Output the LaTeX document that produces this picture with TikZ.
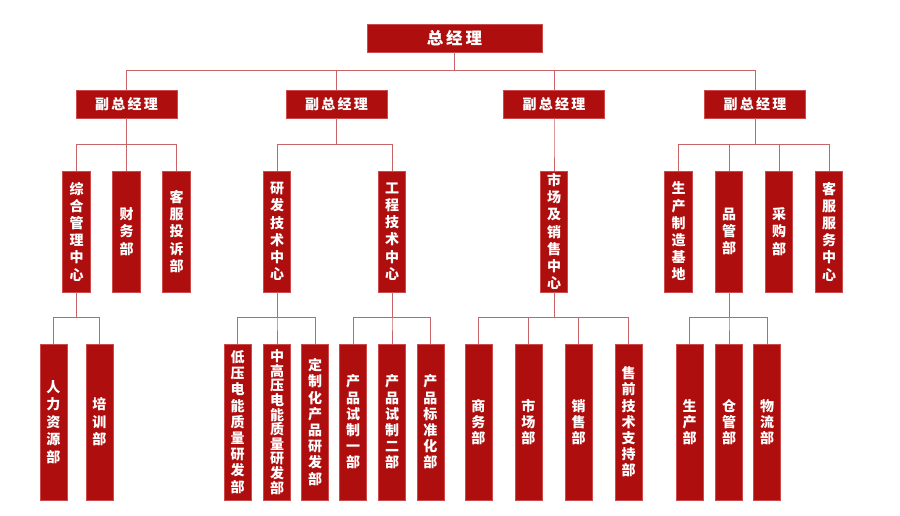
\documentclass[tikz,border=0pt]{standalone}
\usepackage{fontspec}
\setmainfont{Noto Sans CJK SC}
\begin{document}
\begin{tikzpicture}[x=1pt,y=-1pt,
  box/.style={fill=boxred,draw=boxedge,line width=0.6pt,text=white,inner sep=0pt,font=\bfseries},
  topbox/.style={box,minimum width=175pt,minimum height=28pt,font=\bfseries\fontsize{16.5}{18}\selectfont},
  vpbox/.style={box,minimum width=101pt,minimum height=28pt,font=\bfseries\fontsize{14}{16}\selectfont},
  midbox/.style={box,minimum width=27.5pt,minimum height=121pt,align=center,font=\bfseries\fontsize{14}{17.2}\selectfont},
  lowbox/.style={box,minimum width=27pt,minimum height=156pt,align=center,font=\bfseries\fontsize{14}{16.2}\selectfont},
  link/.style={draw=linered,line width=1pt}
]
\definecolor{boxred}{HTML}{AE0E0E}
\definecolor{boxedge}{HTML}{CC4A4A}
\definecolor{linered}{HTML}{C86468}
\useasboundingbox[fill=white] (0,0) rectangle (900,516);

% top
\node[topbox] (top) at (454.5,38) {总\hspace{3pt}经\hspace{3pt}理};
% VPs
\node[vpbox] (vp1) at (126.5,104) {副\hspace{2.3pt}总\hspace{2.3pt}经\hspace{2.3pt}理};
\node[vpbox] (vp2) at (336.5,104) {副\hspace{2.3pt}总\hspace{2.3pt}经\hspace{2.3pt}理};
\node[vpbox] (vp3) at (554,104) {副\hspace{2.3pt}总\hspace{2.3pt}经\hspace{2.3pt}理};
\node[vpbox] (vp4) at (755,104) {副\hspace{2.3pt}总\hspace{2.3pt}经\hspace{2.3pt}理};

% level 2
\node[midbox] (c11) at (76.5,231.5) {综\\合\\管\\理\\中\\心};
\node[midbox] (c12) at (126.5,231.5) {财\\务\\部};
\node[midbox] (c13) at (176.5,231.5) {客\\服\\投\\诉\\部};
\node[midbox] (c21) at (277,231.5) {研\\发\\技\\术\\中\\心};
\node[midbox] (c22) at (392,231.5) {工\\程\\技\\术\\中\\心};
\node[midbox] (c31) at (554,231.5) {市\\场\\及\\销\\售\\中\\心};
\node[midbox] (c41) at (678.5,231.5) {生\\产\\制\\造\\基\\地};
\node[midbox] (c42) at (729,231.5) {品\\管\\部};
\node[midbox] (c43) at (779,231.5) {采\\购\\部};
\node[midbox] (c44) at (829,231.5) {客\\服\\服\\务\\中\\心};

% level 3
\node[lowbox,font=\bfseries\fontsize{14}{17.5}\selectfont] (d111) at (53.3,422) {人\\力\\资\\源\\部};
\node[lowbox,font=\bfseries\fontsize{14}{17.5}\selectfont] (d112) at (99.3,422) {培\\训\\部};
\node[lowbox] (d211) at (237.7,422) {低\\压\\电\\能\\质\\量\\研\\发\\部};
\node[lowbox,font=\bfseries\fontsize{14}{14.6}\selectfont] (d212) at (277,422) {中\\高\\压\\电\\能\\质\\量\\研\\发\\部};
\node[lowbox] (d213) at (315,422) {定\\制\\化\\产\\品\\研\\发\\部};
\node[lowbox] (d221) at (353,422) {产\\品\\试\\制\\一\\部};
\node[lowbox] (d222) at (392,422) {产\\品\\试\\制\\二\\部};
\node[lowbox] (d223) at (430.3,422) {产\\品\\标\\准\\化\\部};
\node[lowbox] (d311) at (478.3,422) {商\\务\\部};
\node[lowbox] (d312) at (528.3,422) {市\\场\\部};
\node[lowbox] (d313) at (578.7,422) {销\\售\\部};
\node[lowbox] (d314) at (628.7,422) {售\\前\\技\\术\\支\\持\\部};
\node[lowbox] (d421) at (689.7,422) {生\\产\\部};
\node[lowbox] (d422) at (729,422) {仓\\管\\部};
\node[lowbox] (d423) at (767,422) {物\\流\\部};

% connectors
\foreach \c in {vp1,vp2,vp3,vp4}
  \path[link] (top.south) -- (top.south |- 0,70.7) -| (\c.north);
\foreach \p/\c in {vp1/c11,vp1/c12,vp1/c13,vp2/c21,vp2/c22,vp3/c31,vp4/c41,vp4/c42,vp4/c43,vp4/c44}
  \path[link] (\p.south) -- (\p.south |- 0,144.3) -| (\c.north);
\foreach \p/\c in {c11/d111,c11/d112,c21/d211,c21/d212,c21/d213,c22/d221,c22/d222,c22/d223,c31/d311,c31/d312,c31/d313,c31/d314,c42/d421,c42/d422,c42/d423}
  \path[link] (\p.south) -- (\p.south |- 0,317.7) -| (\c.north);
\end{tikzpicture}
\end{document}
